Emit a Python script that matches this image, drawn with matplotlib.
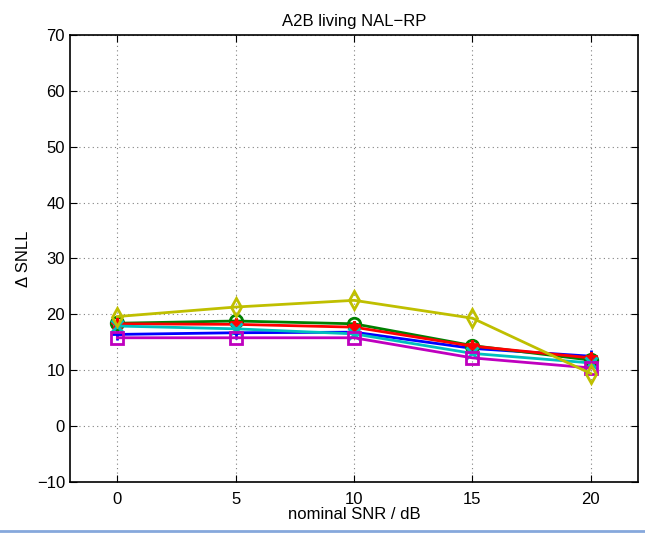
import numpy as np
import matplotlib
matplotlib.use("Agg")
import matplotlib.pyplot as plt
from matplotlib.lines import Line2D

plt.rcParams['font.family'] = ['Liberation Sans', 'DejaVu Sans']

snr = [0, 5, 10, 15, 20]
blue = [16.4, 16.7, 16.8, 13.9, 12.5]
green = [18.4, 18.8, 18.3, 14.4, 11.8]
red = [18.3, 18.2, 17.7, 14.3, 12.2]
cyan = [17.9, 17.4, 16.5, 13.0, 11.3]
magenta = [15.8, 15.8, 15.8, 12.2, 10.4]
yellow = [19.6, 21.3, 22.5, 19.3, 9.4]

series = [
    (blue, 'b', '+'),
    (green, 'g', 'o'),
    (red, 'r', '*'),
    (cyan, 'c', 'x'),
    (magenta, 'm', 's'),
    (yellow, 'y', 'd'),
]
colors = {'b': '#0000ff', 'g': '#008000', 'r': '#ff0000',
          'c': '#00bfbf', 'm': '#bf00bf', 'y': '#bfbf00'}

fig = plt.figure(figsize=(6.45, 5.33), dpi=100)
ax = fig.add_axes([0.1085, 0.0957, 0.881, 0.839])

for vals, c, m in series:
    ax.plot(snr, vals, color=colors[c], marker=m, markersize=9,
            markerfacecolor='none', markeredgewidth=2, linewidth=2)

ax.set_xlim(-2, 22)
ax.set_ylim(-10, 70)
ax.set_xticks(snr)
ax.set_yticks(range(-10, 71, 10))
ax.set_yticklabels(['\u221210'] + [str(v) for v in range(0, 71, 10)])
ax.grid(True, linestyle=(0, (1, 3)), color='#808080', linewidth=0.8)
ax.tick_params(direction='in', top=True, right=True, labelsize=12, length=5)
ax.tick_params(axis='x', pad=7)
for s in ax.spines.values():
    s.set_linewidth(1.2)

ax.set_title('A2B living NAL\u2212RP', fontsize=12, pad=6)
ax.set_xlabel('nominal SNR / dB', fontsize=12, labelpad=0)
ax.set_ylabel('\u0394 SNLL', fontsize=12, labelpad=4)

# thin blue strip along the bottom edge of the screenshot
fig.add_artist(Line2D([0, 1], [0.003, 0.003], transform=fig.transFigure,
                      color='#86a8dc', linewidth=2))

fig.savefig('out.png', dpi=100)
